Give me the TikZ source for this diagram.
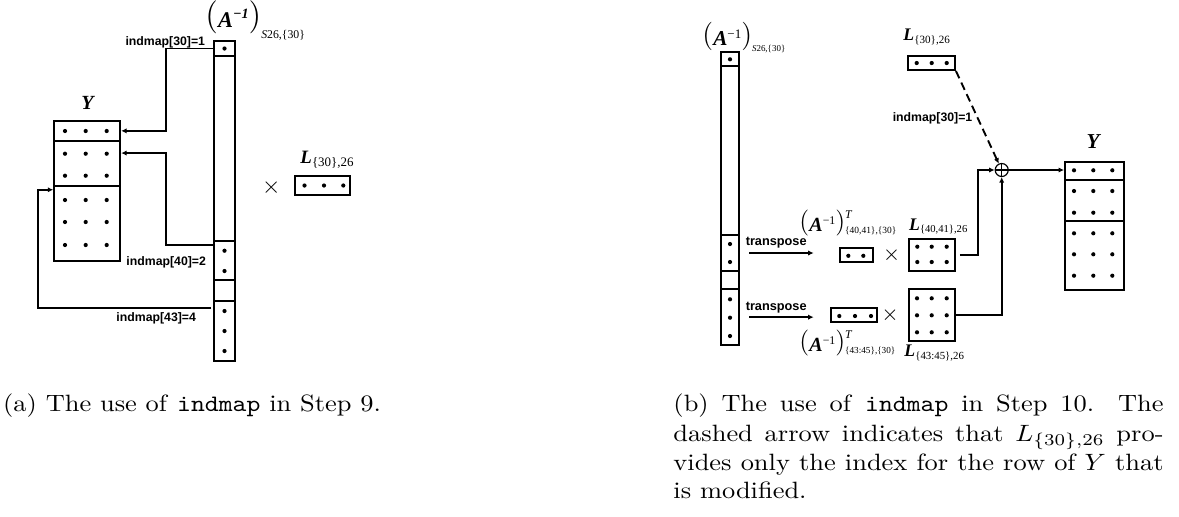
\documentclass[tikz,border=0pt]{standalone}
\usepackage{fontspec}
\usepackage{graphicx}
\newfontfamily\tms{Liberation Serif}
\newfontfamily\hv{Liberation Sans}
\usetikzlibrary{arrows.meta,calc}
\def\pxu{0.4237pt}
\newcommand\fs[1]{\fontsize{#1}{#1}\selectfont}
\newcommand\bi[1]{{\tms\bfseries\itshape #1}}
\newcommand\capline[1]{\scalebox{1.12}[1]{\makebox[185.4pt][s]{#1}}}
\begin{document}
\begin{tikzpicture}[x=0.4237pt,y=-0.4237pt,
  cell/.style 2 args={draw,line width=0.8pt,inner sep=0pt,minimum width=#1*\pxu,minimum height=#2*\pxu},
  arr/.style={line width=0.8pt,-{Latex[length=2.3pt,width=2.2pt]}},
  lab/.style={inner sep=0pt,font=\hv\bfseries\fs{5.2}},
  tx/.style={anchor=base west,inner sep=0pt},
  mul/.style={inner sep=0pt,font=\fs{10}}]
\useasboundingbox (0,0) rectangle (1179,516);

% ===================== (a) =====================
% column of A^{-1}
\node[cell={21}{15}]  (ac1) at (224.5,48.5) {};
\node[cell={21}{185}] (ag1) at (224.5,148.5) {};
\node[cell={21}{39}]  (ac2) at (224.5,260.5) {};
\node[cell={21}{21}]  (ag2) at (224.5,290.5) {};
\node[cell={21}{60}]  (ac3) at (224.5,331) {};
\foreach \yy in {48.5,250.7,271,311,331,351} \fill (224.5,\yy) circle (2.1);
% Y
\node[cell={66}{20.3}] (yr1) at (87.2,130.85) {};
\node[cell={66}{44.7}] (yr2) at (87.2,163.35) {};
\node[cell={66}{75}]   (yr3) at (87.2,223.2) {};
\foreach \xx in {65,85.7,106.7}
  \foreach \yy in {131,153.7,175.7,200,222,245} \fill (\xx,\yy) circle (2.1);
\node[inner sep=0pt] (ylab) at (87.5,102.5) {\fs{8.5}\bi{Y}};
% L
\node[cell={55}{19.6}] (lb) at (322.5,185.5) {};
\foreach \xx in {304.5,324,343.3} \fill (\xx,185.5) circle (2.1);
\node[tx] (llab) at (300,163.3) {\fs{8}\bi{L}\raisebox{-1.3pt}{\fs{5.5}\tms\{30\},26}};
\node[mul] (xa) at (271.3,188) {$\times$};
% A label
\node[tx] (alab) at (205,27) {\raisebox{0.6pt}{\fs{14}(}\fs{9.5}\bi{A}\raisebox{3.6pt}{\fs{6}\bi{−1}}\raisebox{0.6pt}{\fs{14})}\raisebox{-4.8pt}{\fs{5}\tms\itshape S\upshape 26,\{30\}}};
% arrows
\draw[arr] (ac1.west) -- ++(-47,0) |- (yr1.east);
\draw[arr] ($(ac2.north west)+(0,5)$) -- ++(-47,0) |- ($(yr2.north east)+(0,13)$);
\draw[arr] ($(ac3.north west)+(-2,8.3)$) -- ++(-173,0) |- ($(yr3.north west)+(0,5)$);
\node[lab] (i30) at (165.3,42.5) {indmap[30]=1};
\node[lab] (i40) at (166.2,262.3) {indmap[40]=2};
\node[lab] (i43) at (156.2,318.7) {indmap[43]=4};

% ===================== (b) =====================
\node[cell={18.6}{14}]    (rc1) at (730,58.7) {};
\node[cell={18.6}{169.3}] (rg1) at (730,150.35) {};
\node[cell={18.6}{36}]    (rc2) at (730,253) {};
\node[cell={18.6}{18.3}]  (rg2) at (730,280.15) {};
\node[cell={18.6}{55.7}]  (rc3) at (730,317.15) {};
\foreach \yy in {59.3,244,262,299.3,317.7,336} \fill (730,\yy) circle (2.1);
\node[tx] (ralab) at (702,45.7) {\raisebox{1pt}{\fs{12}(}\fs{9}\bi{A}\raisebox{3.2pt}{\fs{5.5}\tms −1}\raisebox{1pt}{\fs{12})}\raisebox{-2.3pt}{\fs{3.8}\tms\itshape S\upshape 26,\{30\}}};
% L top
\node[cell={47}{14.3}] (lt) at (931.5,62.9) {};
\foreach \xx in {916.7,931.7,946.7} \fill (\xx,63) circle (2.1);
\node[tx] (ltlab) at (903,40.7) {\fs{7.5}\bi{L}\raisebox{-1.2pt}{\fs{4.7}\tms\{30\},26}};
% oplus
\node[circle,draw,line width=0.5pt,minimum size=13*\pxu,inner sep=0pt] (op) at (1001.7,170) {};
\draw[line width=0.5pt] (op.north) -- (op.south) (op.west) -- (op.east);
% transposes
\draw[arr] ($(rc2.east)+(9,0)$) -- ++(64.4,0) coordinate (te1);
\draw[arr] ($(rc3.east)+(9,0)$) -- ++(64.4,0) coordinate (te2);
\node[lab,font=\hv\bfseries\fs{5.4}] (tp1) at (776.2,242.5) {transpose};
\node[lab,font=\hv\bfseries\fs{5.4}] (tp2) at (776.2,308) {transpose};
% row 40,41
\node[cell={32.7}{14}] (s1) at (856.3,255.3) {};
\foreach \xx in {848.3,863.3} \fill (\xx,255.8) circle (2.1);
\node[mul,font=\fs{9}] (xb1) at (891.7,255) {$\times$};
\node[cell={46.3}{31.7}] (l40) at (931.8,255.2) {};
\foreach \xx in {917.3,931.7,946.7}
  \foreach \yy in {246.7,262} \fill (\xx,\yy) circle (2.1);
\node[tx] (l40lab) at (908.7,230) {\fs{7.5}\bi{L}\raisebox{-1.2pt}{\fs{4.5}\tms\{40,41\},26}};
\node[tx] (a40lab) at (799,231.7) {\raisebox{1pt}{\fs{11}(}\fs{8.5}\bi{A}\raisebox{3pt}{\fs{5}\tms −1}\raisebox{1pt}{\fs{11})}\rlap{\raisebox{5.8pt}{\fs{5}\tms\itshape T}}\raisebox{-0.7pt}{\fs{4}\tms\{40,41\},\{30\}}};
% row 43:45
\node[cell={46.3}{13.4}] (s2) at (854.2,315) {};
\foreach \xx in {839.3,855,871} \fill (\xx,316) circle (2.1);
\node[mul,font=\fs{9}] (xb2) at (890,315) {$\times$};
\node[cell={46.3}{51.4}] (l43) at (931.8,315) {};
\foreach \xx in {917,931.7,946.7}
  \foreach \yy in {298.3,315.3,332.3} \fill (\xx,\yy) circle (2.1);
\node[tx] (l43lab) at (904,356.7) {\fs{7.5}\bi{L}\raisebox{-1.2pt}{\fs{4.6}\tms\{43:45\},26}};
\node[tx] (a43lab) at (799,351.7) {\raisebox{1pt}{\fs{11}(}\fs{8.5}\bi{A}\raisebox{3pt}{\fs{5}\tms −1}\raisebox{1pt}{\fs{11})}\rlap{\raisebox{5.8pt}{\fs{5}\tms\itshape T}}\raisebox{-0.9pt}{\fs{3.9}\tms\{43:45\},\{30\}}};
% Y right
\node[cell={59}{18.3}] (ry1) at (1094.5,170.85) {};
\node[cell={59}{41}]   (ry2) at (1094.5,200.5) {};
\node[cell={59}{69}]   (ry3) at (1094.5,255.5) {};
\foreach \xx in {1074,1093.3,1112.3}
  \foreach \yy in {170.3,191,212.7,233.3,254.3,275.7} \fill (\xx,\yy) circle (2.1);
\node[inner sep=0pt] (rylab) at (1093,142) {\fs{9}\bi{Y}};
% connectors
\draw[arr,dash pattern=on 3.4pt off 2pt] (lt.south east) -- (op);
\node[lab] (j30) at (932.5,118.8) {indmap[30]=1};
\draw[arr] (op.east) -- (op.east -| ry1.west);
\draw[arr] ($(l40.east)+(4,0)$) -- ++(18,0) |- (op.west);
\draw[arr] (l43.east) -| (op.south);

% ===================== captions =====================
\node[tx] (capa) at (2.7,411) {\fs{10}\scalebox{1.12}[1]{(a) The use of \texttt{indmap} in Step 9.}};
\node[tx] (capb1) at (673,411) {\fs{10}\capline{(b) The use of \texttt{indmap} in Step 10.  The}};
\node[tx] (capb2) at (673,441.7) {\fs{10}\capline{dashed arrow indicates that $L_{\{30\},26}$ pro-}};
\node[tx] (capb3) at (673,470) {\fs{10}\capline{vides only the index for the row of $Y$ that}};
\node[tx] (capb4) at (673,498.3) {\fs{10}\scalebox{1.12}[1]{is modified.}};
\end{tikzpicture}
\end{document}
